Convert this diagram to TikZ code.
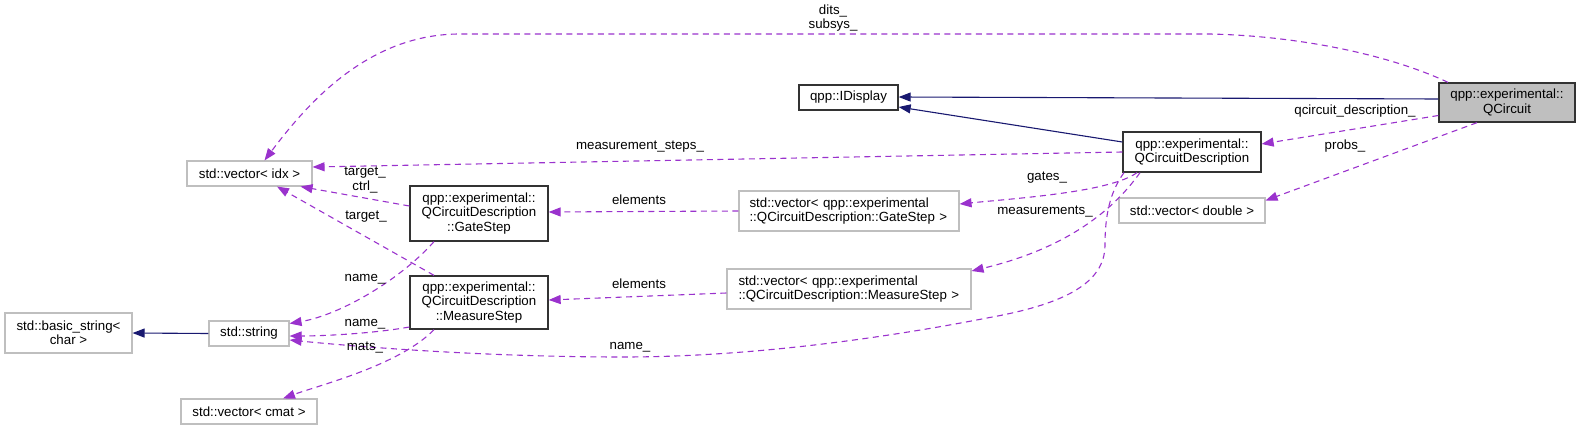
\documentclass[tikz,border=0pt]{standalone}
\usepackage{fontspec}
\setmainfont{Liberation Sans}
\usetikzlibrary{arrows.meta}
\definecolor{purp}{HTML}{9A32CD}
\definecolor{navyb}{HTML}{191970}
\definecolor{gbord}{HTML}{BFBFBF}
\definecolor{qcfill}{HTML}{BFBFBF}
\begin{document}
\begin{tikzpicture}[x=1pt,y=-1pt,
 font=\fontsize{13.3}{14.2}\selectfont,
 box/.style={draw=black!80, line width=1.3pt, fill=white, inner sep=0pt, align=center},
 gbox/.style={draw=gbord, line width=1.1pt, fill=white, inner sep=0pt, align=center},
 lbl/.style={inner sep=0pt, align=center},
 dep/.style={purp, line width=1.1pt, dash pattern=on 6pt off 4.5pt, -{Triangle[length=12pt,width=9pt]}},
 inh/.style={navyb, line width=1.1pt, -{Triangle[length=12pt,width=9pt]}},
]
\useasboundingbox (0,0) rectangle (1580,431);

% nodes
\node[box, fill=qcfill, minimum width=136pt, minimum height=39pt] (QC) at (1507,102.5) {qpp::experimental::\\QCircuit};
\node[box, minimum width=99pt, minimum height=25pt] (ID) at (848.5,97.5) {qpp::IDisplay};
\node[box, minimum width=138pt, minimum height=40pt] (QCD) at (1192,152) {qpp::experimental::\\QCircuitDescription};
\node[gbox, minimum width=125pt, minimum height=25pt] (VI) at (249.5,173.5) {std::vector< idx >};
\node[box, minimum width=138pt, minimum height=55pt] (GS) at (479,213.5) {qpp::experimental::\\QCircuitDescription\\::GateStep};
\node[box, minimum width=138pt, minimum height=53pt] (MS) at (479,302.5) {qpp::experimental::\\QCircuitDescription\\::MeasureStep};
\node[gbox, minimum width=80pt, minimum height=25pt] (STR) at (249,333.5) {std::string};
\node[gbox, minimum width=127pt, minimum height=40pt] (BS) at (68.5,333) {std::basic\_string<\\char >};
\node[gbox, minimum width=136pt, minimum height=25pt] (VC) at (249,411.5) {std::vector< cmat >};
\node[gbox, minimum width=220pt, minimum height=40pt, align=left, text width=199pt] (VG) at (849,211) {std::vector< qpp::experimental\\::QCircuitDescription::GateStep >};
\node[gbox, minimum width=244pt, minimum height=40pt, align=left, text width=221pt] (VM) at (849,289) {std::vector< qpp::experimental\\::QCircuitDescription::MeasureStep >};
\node[gbox, minimum width=146pt, minimum height=25pt] (VD) at (1192,210.5) {std::vector< double >};

% inheritance
\draw[inh] ([yshift=3.5pt]QC.west) -- ([yshift=0.5pt]ID.east);
\draw[inh] ([yshift=10pt]QCD.west) -- ([yshift=-9.5pt]ID.east);
\draw[inh] (STR.west) -- (BS.east);

% usage
\draw[dep] ([xshift=-59pt]QC.north) .. controls (1390,55) and (1300,36) .. (1210,34) -- (460,34) .. controls (370,34) and (310,100) .. ([xshift=15pt]VI.north);
\node[lbl] (Ldits) at (833,18) {dits\_\\subsys\_};

\draw[dep] ([yshift=-13pt]QC.west) -- ([yshift=8pt]QCD.east);
\node[lbl] (Lqcd) at (1355,111) {qcircuit\_description\_};

\draw[dep] ([xshift=-30pt]QC.south) -- ([yshift=10pt]VD.east);
\node[lbl] (Lprobs) at (1345,146) {probs\_};

\draw[dep] (QCD.west) -- ([yshift=6.5pt]VI.east);
\node[lbl] (Lms) at (640,147) {measurement\_steps\_};

\draw[dep] ([xshift=-55pt]QCD.south) .. controls (1110,192) and (1020,198) .. ([yshift=7pt]VG.east);
\node[lbl] (Lgates) at (1047,178) {gates\_};

\draw[dep] ([xshift=-52pt]QCD.south) .. controls (1110,215) and (1060,250) .. ([yshift=18pt]VM.east);
\node[lbl] (Lmeas) at (1045,212) {measurements\_};

\draw[dep] ([xshift=-68pt]QCD.south) .. controls (1110,192) and (1105,215) .. (1105,245) .. controls (1105,285) and (1060,305) .. (987,318) .. controls (900,335) and (760,357) .. (623,357) .. controls (480,357) and (350,346) .. ([yshift=-6.5pt]STR.east);
\node[lbl] (Lname3) at (630,347) {name\_};

\draw[dep] (VG.west) -- ([yshift=1.5pt]GS.east);
\node[lbl] (Lel1) at (639,200) {elements};

\draw[dep] ([yshift=-4pt]VM.west) -- ([yshift=2.5pt]MS.east);
\node[lbl] (Lel2) at (639,284) {elements};

\draw[dep] ([yshift=7.5pt]GS.west) -- ([xshift=-12pt]VI.south east);
\node[lbl] (Ltc) at (365,180) {target\_\\ctrl\_};

\draw[dep] ([xshift=-45pt]MS.north) -- ([xshift=27.5pt]VI.south);
\node[lbl] (Lt2) at (366,217) {target\_};

\draw[dep] ([xshift=-45pt]GS.south) .. controls (400,280) and (340,315) .. ([yshift=10pt]STR.east);
\node[lbl] (Ln1) at (365,279) {name\_};

\draw[dep] ([yshift=-24.5pt]MS.west) .. controls (370,334) and (320,336) .. ([yshift=-2.5pt]STR.east);
\node[lbl] (Ln2) at (365,324) {name\_};

\draw[dep] ([xshift=-45pt]MS.south) .. controls (400,365) and (320,385) .. ([xshift=34pt]VC.north);
\node[lbl] (Lmats) at (365,348) {mats\_};
\end{tikzpicture}
\end{document}
